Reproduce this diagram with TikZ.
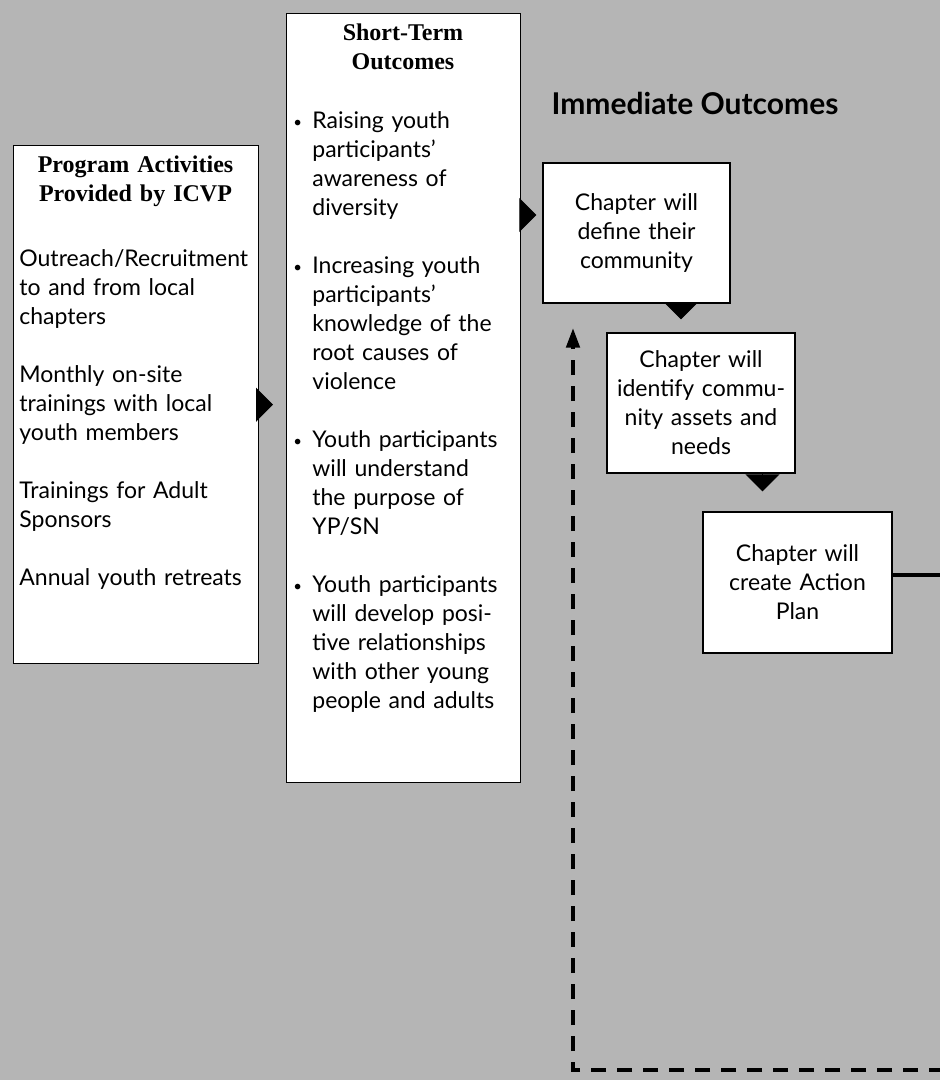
\documentclass[tikz,border=0pt]{standalone}
\usepackage{fontspec}
\setmainfont{Lato}
\newfontfamily\headfont{Liberation Serif}
\usepackage{tikz}
\usetikzlibrary{positioning,arrows.meta}

\definecolor{bggray}{gray}{0.71}
\newcommand{\bul}{\makebox[19pt][l]{\raisebox{1pt}{\fontsize{15pt}{15pt}\selectfont\textbullet}}}
\newcommand{\ind}{\hspace*{19pt}}

\begin{document}
\begin{tikzpicture}[x=1pt,y=-1pt,thick]
	\tikzstyle{box}=[draw=black, fill=white, line width=1.3pt, inner sep=0pt]
	\tikzstyle{heading}=[font=\headfont\bfseries\fontsize{24pt}{29pt}\selectfont, align=center, inner sep=0pt]
	\tikzstyle{body}=[font=\fontsize{23pt}{29pt}\selectfont, inner sep=0pt]
	\tikzstyle{head}=[-{Triangle[length=17pt,width=34pt]}, line width=1pt]
	\tikzstyle{feedback}=[-{Triangle[length=20pt,width=13pt]}, line width=4.5pt, dash pattern=on 15pt off 11pt]

	\fill[bggray] (0,0) rectangle (940,1080);
	\useasboundingbox (0,0) rectangle (940,1080);

	% program activities
	\node[box, anchor=north west, minimum width=245pt, minimum height=518pt] (pa) at (13,145) {};
	\node[heading, anchor=base, text width=240pt] (paHead) at (135.5,172) {Program Activities\\Provided by ICVP};
	\node[body, anchor=base west, text width=238pt, align=left] (paList) at (19,266) {%
		Outreach/Recruitment\\
		to and from local\\
		chapters\\[29pt]
		Monthly on-site\\
		trainings with local\\
		youth members\\[29pt]
		Trainings for Adult\\
		Sponsors\\[29pt]
		Annual youth retreats};

	% short-term outcomes
	\node[box, anchor=north west, minimum width=234pt, minimum height=769pt] (st) at (286,13) {};
	\node[heading, anchor=base, text width=228pt] (stHead) at (403,40) {Short-Term\\Outcomes};
	\node[body, anchor=base west, text width=226pt, align=left] (stList) at (293,128) {%
		\bul Raising youth\\
		\ind participants’\\
		\ind awareness of\\
		\ind diversity\\[29.3pt]
		\bul Increasing youth\\
		\ind participants’\\
		\ind knowledge of the\\
		\ind root causes of\\
		\ind violence\\[29.3pt]
		\bul Youth participants\\
		\ind will understand\\
		\ind the purpose of\\
		\ind YP/SN\\[29.3pt]
		\bul Youth participants\\
		\ind will develop posi-\\
		\ind tive relationships\\
		\ind with other young\\
		\ind people and adults};

	% immediate outcomes
	\node[font=\bfseries\fontsize{30pt}{36pt}\selectfont, anchor=base, inner sep=0pt] (imm) at (695,114) {Immediate Outcomes};
	\node[box, body, minimum width=187pt, minimum height=140pt, text width=180pt, align=center] (cd) at (636.5,233) {Chapter will\\define their\\community};
	\node[box, body, minimum width=188pt, minimum height=140pt, text width=182pt, align=center] (id) at (701,403) {Chapter will\\identify commu-\\nity assets and\\needs};
	\node[box, body, minimum width=189pt, minimum height=141pt, text width=182pt, align=center] (ap) at (797.5,582.5) {Chapter will\\create Action\\Plan};

	\coordinate (cdIn) at ([yshift=18pt]cd.west);
	\coordinate (idIn) at ([xshift=-20pt]id.north);
	\coordinate (apIn) at ([xshift=-35pt]ap.north);
	\coordinate (apOut) at (944,575);
	\coordinate (loopEnd) at (944,1070);
	\coordinate (loopTurn) at (573,1070);

	\path (pa.east) edge[head, shorten >=13pt] (pa.east -| st.west)
		  (st.east |- cdIn) edge[head, shorten >=6pt] (cdIn)
		  (cd.south -| idIn) edge[head, shorten >=13pt] (idIn)
		  (id.south -| apIn) edge[head, shorten >=20pt] (apIn);

	\draw[line width=4pt] (ap.east |- apOut) -- (apOut);
	\draw[feedback, shorten >=24pt] (loopEnd) -- (loopTurn) -- (loopTurn |- cd.south);

\end{tikzpicture}
\end{document}
